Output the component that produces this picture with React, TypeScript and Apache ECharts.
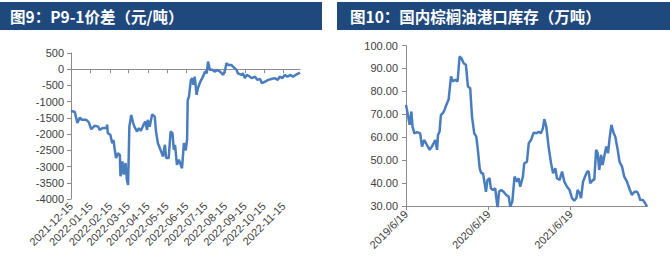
import React, { useEffect, useRef } from "react";
import * as echarts from "echarts";

// ---------- Left chart: P9-1 spread (元/吨) ----------
const leftDates = [
  "2021-12-15", "2021-12-21", "2021-12-25", "2021-12-29", "2022-01-01", "2022-01-08", "2022-01-12",
  "2022-01-16", "2022-01-21", "2022-01-27", "2022-01-29", "2022-02-03", "2022-02-09", "2022-02-10",
  "2022-02-11", "2022-02-15", "2022-02-18", "2022-02-20", "2022-02-22", "2022-02-24", "2022-02-27",
  "2022-03-02", "2022-03-03", "2022-03-06", "2022-03-08", "2022-03-11", "2022-03-13", "2022-03-15",
  "2022-03-17", "2022-03-20", "2022-03-23", "2022-03-25", "2022-03-29", "2022-04-01", "2022-04-04",
  "2022-04-07", "2022-04-11", "2022-04-14", "2022-04-15", "2022-04-18", "2022-04-22", "2022-04-26",
  "2022-04-28", "2022-05-01", "2022-05-05", "2022-05-09", "2022-05-12", "2022-05-14", "2022-05-18",
  "2022-05-21", "2022-05-24", "2022-05-26", "2022-05-28", "2022-05-31", "2022-06-03", "2022-06-06",
  "2022-06-08", "2022-06-11", "2022-06-14", "2022-06-16", "2022-06-17", "2022-06-19", "2022-06-22",
  "2022-06-24", "2022-06-26", "2022-06-28", "2022-07-01", "2022-07-03", "2022-07-07", "2022-07-11",
  "2022-07-14", "2022-07-17", "2022-07-19", "2022-07-22", "2022-07-26", "2022-07-30", "2022-08-02",
  "2022-08-07", "2022-08-12", "2022-08-15", "2022-08-17", "2022-08-20", "2022-08-25", "2022-08-29",
  "2022-09-02", "2022-09-04", "2022-09-10", "2022-09-12", "2022-09-15", "2022-09-18", "2022-09-23",
  "2022-09-26", "2022-10-01", "2022-10-05", "2022-10-09", "2022-10-12", "2022-10-17", "2022-10-22",
  "2022-10-27", "2022-11-01", "2022-11-06", "2022-11-09", "2022-11-13", "2022-11-17", "2022-11-21",
  "2022-11-26", "2022-11-30", "2022-12-05", "2022-12-11",
];
const leftValues = [
  -1280, -1320, -1660, -1490, -1560, -1560, -1630,
  -1850, -1745, -1770, -1870, -1815, -1815, -1710,
  -1970, -2020, -2280, -2180, -2480, -2740, -2590,
  -2640, -3300, -2840, -3250, -2890, -3400, -3570,
  -1770, -1410, -1660, -1770, -1920, -1815, -1900,
  -1770, -1610, -1870, -1560, -1770, -1390, -1460,
  -1920, -2280, -2480, -2690, -2330, -2740, -2740,
  -1920, -1970, -2480, -2330, -2950, -2790, -2950,
  -3050, -2280, -2500, -2150, -950, -840, -330,
  -280, -480, -230, -790, -585, -380, -230,
  -75, -125, 235, -20, -20, -75, -20,
  -75, -175, -20, 185, 130, 130, 50,
  -20, -125, -175, -125, -275, -175, -230,
  -275, -230, -330, -300, -430, -380, -330,
  -300, -275, -330, -230, -275, -175, -230,
  -175, -230, -165, -105,
];
const leftTickLabels = [
  "2021-12-15", "2022-01-15", "2022-02-15", "2022-03-15", "2022-04-15", "2022-05-15",
  "2022-06-15", "2022-07-15", "2022-08-15", "2022-09-15", "2022-10-15", "2022-11-15",
];

// ---------- Right chart: domestic palm oil port inventory (万吨) ----------
const rightDates = [
  "2019-06-19", "2019-06-26", "2019-07-05", "2019-07-13", "2019-07-18", "2019-07-26", "2019-08-07",
  "2019-08-21", "2019-08-29", "2019-09-08", "2019-09-20", "2019-10-02", "2019-10-12", "2019-10-20",
  "2019-10-27", "2019-11-04", "2019-11-08", "2019-11-15", "2019-11-21", "2019-11-30", "2019-12-07",
  "2019-12-15", "2019-12-25", "2020-01-05", "2020-01-12", "2020-01-24", "2020-02-03", "2020-02-12",
  "2020-02-20", "2020-03-01", "2020-03-11", "2020-03-20", "2020-03-30", "2020-04-07", "2020-04-17",
  "2020-04-26", "2020-05-04", "2020-05-11", "2020-05-18", "2020-05-26", "2020-06-01", "2020-06-08",
  "2020-06-15", "2020-06-24", "2020-06-30", "2020-07-09", "2020-07-19", "2020-07-27", "2020-07-30",
  "2020-08-05", "2020-08-15", "2020-08-25", "2020-09-06", "2020-09-17", "2020-09-24", "2020-10-03",
  "2020-10-13", "2020-10-24", "2020-10-31", "2020-11-07", "2020-11-19", "2020-11-25", "2020-12-07",
  "2020-12-15", "2020-12-25", "2021-01-06", "2021-01-18", "2021-01-28", "2021-02-07", "2021-02-16",
  "2021-02-22", "2021-03-03", "2021-03-13", "2021-03-24", "2021-04-02", "2021-04-12", "2021-04-19",
  "2021-05-01", "2021-05-12", "2021-05-22", "2021-06-03", "2021-06-14", "2021-06-25", "2021-07-05",
  "2021-07-14", "2021-07-20", "2021-07-29", "2021-08-04", "2021-08-13", "2021-08-23", "2021-08-31",
  "2021-09-07", "2021-09-14", "2021-09-26", "2021-10-02", "2021-10-10", "2021-10-17", "2021-10-24",
  "2021-11-01", "2021-11-08", "2021-11-15", "2021-11-24", "2021-12-02", "2021-12-09", "2021-12-17",
  "2021-12-27", "2022-01-03", "2022-01-14", "2022-01-22", "2022-02-02", "2022-02-12", "2022-02-24",
  "2022-03-08", "2022-03-18", "2022-03-29", "2022-04-10", "2022-04-17", "2022-04-24", "2022-05-06",
  "2022-05-16", "2022-05-24",
];
const rightValues = [
  74.1, 70.5, 65.4, 71.2, 64.6, 61.7, 62.2,
  61.7, 55.9, 58.8, 56.6, 54.5, 55.9, 57.4,
  58.8, 54.5, 61.0, 62.4, 69.7, 70.5, 71.9,
  74.1, 76.3, 86.5, 84.3, 85.0, 84.3, 95.2,
  94.5, 92.3, 91.6, 82.1, 81.4, 69.0, 61.7,
  60.3, 53.7, 46.5, 44.3, 44.3, 40.6, 36.2,
  41.4, 42.1, 37.7, 37.0, 37.7, 31.2, 29.1,
  36.2, 37.0, 36.2, 34.8, 34.1, 29.7, 31.9,
  42.8, 40.6, 42.1, 38.4, 42.8, 48.6, 49.3,
  57.4, 58.8, 62.0, 61.7, 62.4, 61.7, 63.9,
  67.9, 64.6, 55.9, 48.6, 44.3, 46.5, 42.1,
  41.4, 45.0, 40.6, 38.4, 37.0, 33.4, 32.3,
  33.4, 37.0, 35.5, 33.4, 40.6, 43.1, 45.0,
  45.0, 39.9, 41.4, 41.4, 54.5, 53.0, 45.7,
  52.3, 47.9, 51.5, 55.9, 53.0, 59.6, 65.4,
  61.7, 60.3, 54.5, 49.3, 47.2, 42.8, 40.6,
  37.3, 34.8, 36.2, 36.2, 34.8, 32.6, 32.6,
  31.2, 29.7,
];
const rightTickLabels = ["2019/6/19", "2020/6/19", "2021/6/19"];

const leftTitle = "图9：P9-1价差（元/吨）";
const rightTitle = "图10：国内棕榈油港口库存（万吨）";

function toTs(s: string): number {
  const p = s.split(/[-/]/).map(Number);
  return new Date(p[0], p[1] - 1, p[2]).getTime();
}
const pad = (n: number) => (n < 10 ? "0" + n : "" + n);

export default function App() {
  const ref = useRef<HTMLDivElement>(null);
  useEffect(() => {
    if (!ref.current) return;
    const chart = echarts.init(ref.current, null, { renderer: "svg" });
    const axisColor = "#8c8c8c";
    const labelColor = "#404040";
    const font = "Liberation Sans";
    const leftTicks = leftTickLabels.map(toTs);
    const rightTicks = rightTickLabels.map(toTs);
    const leftData = leftDates.map((d, i) => [toTs(d), leftValues[i]]);
    const rightData = rightDates.map((d, i) => [toTs(d), rightValues[i]]);
    const leftMin = toTs(leftDates[0]);
    const leftMax = toTs(leftDates[leftDates.length - 1]);
    const rightMin = toTs(rightDates[0]);
    const rightMax = toTs(rightDates[rightDates.length - 1]);
    const fmtDash = (v: number) => {
      const d = new Date(v);
      return `${d.getFullYear()}-${pad(d.getMonth() + 1)}-${pad(d.getDate())}`;
    };
    const fmtSlash = (v: number) => {
      const d = new Date(v);
      return `${d.getFullYear()}/${d.getMonth() + 1}/${d.getDate()}`;
    };
    const titleFont = "'Noto Sans CJK SC', sans-serif";
    chart.setOption({
      animation: false,
      graphic: [
        { type: "rect", shape: { x: 0, y: 2, width: 322, height: 28 }, style: { fill: "#1F497D" } },
        {
          type: "text", x: 10, y: 16,
          style: { text: leftTitle, fill: "#ffffff", font: `bold 15.5px ${titleFont}`, textVerticalAlign: "middle" },
        },
        { type: "rect", shape: { x: 337, y: 2, width: 333, height: 28 }, style: { fill: "#1F497D" } },
        {
          type: "text", x: 350, y: 16,
          style: { text: rightTitle, fill: "#ffffff", font: `bold 15.5px ${titleFont}`, textVerticalAlign: "middle" },
        },
      ],
      grid: [
        { left: 71, right: 370, top: 53, bottom: 63 },
        { left: 406, right: 23, top: 45.5, bottom: 56 },
      ],
      xAxis: [
        {
          gridIndex: 0, type: "value", min: leftMin, max: leftMax, position: "bottom",
          axisLine: { show: false, onZero: false },
          axisTick: { show: false },
          splitLine: { show: false },
          axisLabel: {
            customValues: leftTicks, formatter: fmtDash, rotate: 45, fontSize: 11,
            color: labelColor, fontFamily: font, margin: 5, hideOverlap: false,
            showMinLabel: true, showMaxLabel: true,
          },
        },
        {
          gridIndex: 0, type: "value", min: leftMin, max: leftMax, position: "top",
          axisLine: { show: true, onZero: true, lineStyle: { color: axisColor, width: 1 } },
          axisTick: { show: true, inside: true, length: 4, customValues: leftTicks, lineStyle: { color: axisColor } },
          axisLabel: { show: false },
          splitLine: { show: false },
        },
        {
          gridIndex: 1, type: "value", min: rightMin, max: rightMax, position: "bottom",
          axisLine: { show: true, onZero: false, lineStyle: { color: axisColor, width: 1 } },
          axisTick: { show: true, length: 4, customValues: rightTicks, lineStyle: { color: axisColor } },
          splitLine: { show: false },
          axisLabel: {
            customValues: rightTicks, formatter: fmtSlash, rotate: 45, fontSize: 11,
            color: labelColor, fontFamily: font, margin: 6, hideOverlap: false,
            showMinLabel: true,
          },
        },
      ],
      yAxis: [
        {
          gridIndex: 0, type: "value", min: -4000, max: 500, interval: 500,
          axisLine: { show: true, onZero: false, lineStyle: { color: axisColor, width: 1 } },
          axisTick: { show: true, length: 4, lineStyle: { color: axisColor } },
          splitLine: { show: false },
          axisLabel: {
            fontSize: 11, color: labelColor, fontFamily: font, margin: 7,
            formatter: (v: number) => String(v),
          },
        },
        {
          gridIndex: 1, type: "value", min: 30, max: 100, interval: 10,
          axisLine: { show: true, onZero: false, lineStyle: { color: axisColor, width: 1 } },
          axisTick: { show: true, length: 4, lineStyle: { color: axisColor } },
          splitLine: { show: false },
          axisLabel: {
            fontSize: 11, color: labelColor, fontFamily: font, margin: 8,
            formatter: (v: number) => v.toFixed(2),
          },
        },
      ],
      series: [
        {
          type: "line", xAxisIndex: 0, yAxisIndex: 0, data: leftData,
          showSymbol: false, symbol: "none",
          lineStyle: { color: "#4a7dbd", width: 2.5 },
        },
        {
          type: "line", xAxisIndex: 2, yAxisIndex: 1, data: rightData,
          showSymbol: false, symbol: "none",
          lineStyle: { color: "#4a7dbd", width: 2.5 },
        },
      ],
    });
    return () => chart.dispose();
  }, []);
  return (
    <div
      ref={ref}
      style={{ position: "absolute", left: 0, top: 0, width: 670, height: 262, background: "#ffffff" }}
    />
  );
}
